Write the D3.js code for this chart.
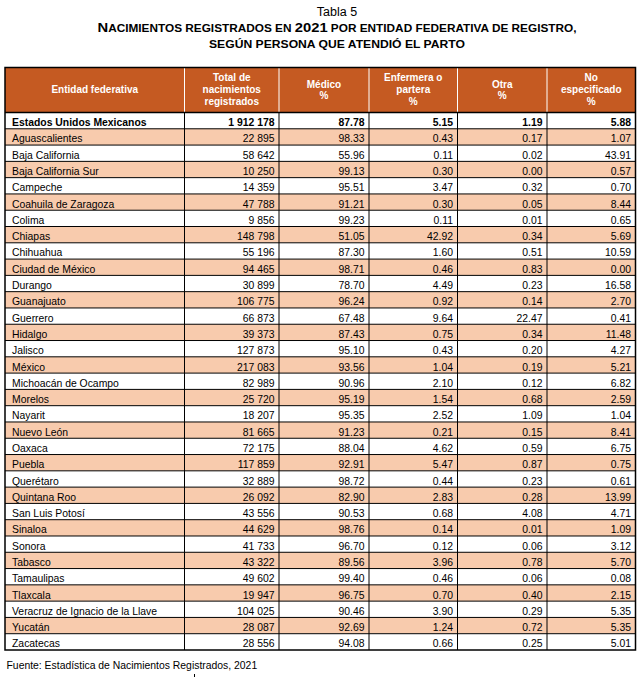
<!DOCTYPE html>
<html><head><meta charset="utf-8">
<script src="https://cdn.jsdelivr.net/npm/d3@7"></script>
<style>body{margin:0;background:#fff} svg{display:block}</style>
</head><body><svg id="c" width="641" height="677"></svg>
<script>
const entidades = ["Estados Unidos Mexicanos","Aguascalientes","Baja California","Baja California Sur","Campeche","Coahuila de Zaragoza","Colima","Chiapas","Chihuahua","Ciudad de México","Durango","Guanajuato","Guerrero","Hidalgo","Jalisco","México","Michoacán de Ocampo","Morelos","Nayarit","Nuevo León","Oaxaca","Puebla","Querétaro","Quintana Roo","San Luis Potosí","Sinaloa","Sonora","Tabasco","Tamaulipas","Tlaxcala","Veracruz de Ignacio de la Llave","Yucatán","Zacatecas"];
const totales = [1912178,22895,58642,10250,14359,47788,9856,148798,55196,94465,30899,106775,66873,39373,127873,217083,82989,25720,18207,81665,72175,117859,32889,26092,43556,44629,41733,43322,49602,19947,104025,28087,28556];
const medico = [87.78,98.33,55.96,99.13,95.51,91.21,99.23,51.05,87.30,98.71,78.70,96.24,67.48,87.43,95.10,93.56,90.96,95.19,95.35,91.23,88.04,92.91,98.72,82.90,90.53,98.76,96.70,89.56,99.40,96.75,90.46,92.69,94.08];
const enfermera = [5.15,0.43,0.11,0.30,3.47,0.30,0.11,42.92,1.60,0.46,4.49,0.92,9.64,0.75,0.43,1.04,2.10,1.54,2.52,0.21,4.62,5.47,0.44,2.83,0.68,0.14,0.12,3.96,0.46,0.70,3.90,1.24,0.66];
const otra = [1.19,0.17,0.02,0.00,0.32,0.05,0.01,0.34,0.51,0.83,0.23,0.14,22.47,0.34,0.20,0.19,0.12,0.68,1.09,0.15,0.59,0.87,0.23,0.28,4.08,0.01,0.06,0.78,0.06,0.40,0.29,0.72,0.25];
const noEspecificado = [5.88,1.07,43.91,0.57,0.70,8.44,0.65,5.69,10.59,0.00,16.58,2.70,0.41,11.48,4.27,5.21,6.82,2.59,1.04,8.41,6.75,0.75,0.61,13.99,4.71,1.09,3.12,5.70,0.08,2.15,5.35,5.35,5.01];
const encabezados = [["Entidad federativa"],["Total de","nacimientos","registrados"],["Médico","%"],["Enfermera o","partera","%"],["Otra","%"],["No","especificado","%"]];
const tituloTabla = "Tabla 5";
const fuente = "Fuente: Estadística de Nacimientos Registrados, 2021";

(function () {
const FONT = "'Liberation Sans', Arial, sans-serif";
const svg = d3.select("#c").attr("font-family", FONT);
const HEAD = "#C55A22", PEACH = "#F8CBAD";

const xEdges = [5, 184.5, 279, 369, 457.5, 547, 635.5];
const tableTop = 67.5, headBottom = 112.5, tableBottom = 650;
const y = d3.scaleBand().domain(d3.range(entidades.length)).range([headBottom, tableBottom]).paddingInner(0).paddingOuter(0);

const fmtInt = v => d3.format(",")(v).replace(/,/g, " ");
const fmtPct = d3.format(".2f");

// Title
const cx = 337;
svg.append("text").attr("x", cx).attr("y", 16).attr("text-anchor", "middle")
  .attr("font-size", 12.5).attr("fill", "#000").text(tituloTabla);
const t2 = svg.append("text").attr("x", cx).attr("y", 31.5).attr("text-anchor", "middle")
  .attr("font-weight", "bold").attr("fill", "#000")
  .attr("textLength", 479).attr("lengthAdjust", "spacingAndGlyphs");
[["N",12.5],["ACIMIENTOS REGISTRADOS EN ",10],["2021",12.5],[" POR ENTIDAD FEDERATIVA DE REGISTRO,",10]]
  .forEach(([s, f]) => t2.append("tspan").attr("font-size", f).text(s));
svg.append("text").attr("x", cx).attr("y", 48).attr("text-anchor", "middle")
  .attr("font-weight", "bold").attr("font-size", 10).attr("fill", "#000")
  .attr("textLength", 256).attr("lengthAdjust", "spacingAndGlyphs")
  .text("SEGÚN PERSONA QUE ATENDIÓ EL PARTO");

// Header
svg.append("rect").attr("x", xEdges[0]).attr("y", tableTop).attr("width", xEdges[6] - xEdges[0])
  .attr("height", headBottom - tableTop).attr("fill", HEAD);
encabezados.forEach((lines, c) => {
  const mx = (xEdges[c] + xEdges[c + 1]) / 2;
  const lh = lines.length === 2 ? 11 : 11.6;
  const first = 93 - (lines.length - 1) * lh / 2;
  const t = svg.append("text").attr("text-anchor", "middle").attr("font-weight", "bold")
    .attr("font-size", 10).attr("fill", "#fff");
  lines.forEach((l, k) => t.append("tspan").attr("x", mx).attr("y", first + k * lh).text(l));
});
svg.selectAll(".hsep").data(xEdges.slice(1, 6)).enter().append("line")
  .attr("x1", d => d).attr("x2", d => d).attr("y1", tableTop).attr("y2", headBottom)
  .attr("stroke", "#fff").attr("stroke-width", 1);

// Body rows
svg.selectAll(".row").data(entidades).enter().append("rect")
  .attr("x", xEdges[0]).attr("y", (d, i) => y(i))
  .attr("width", xEdges[6] - xEdges[0]).attr("height", y.bandwidth())
  .attr("fill", (d, i) => i % 2 === 1 ? PEACH : "#fff");

const cols = [totales.map(fmtInt), medico.map(fmtPct), enfermera.map(fmtPct), otra.map(fmtPct), noEspecificado.map(fmtPct)];
entidades.forEach((name, i) => {
  const by = y(i) + y.bandwidth() - 2.6;
  const w = i === 0 ? "bold" : "normal";
  svg.append("text").attr("x", 12).attr("y", by).attr("font-size", 10.4)
    .attr("font-weight", w).attr("fill", "#000").text(name);
  cols.forEach((arr, c) => {
    svg.append("text").attr("x", xEdges[c + 2] - 4.5).attr("y", by).attr("text-anchor", "end")
      .attr("font-size", 10.4).attr("font-weight", w).attr("fill", "#000").text(arr[i]);
  });
});

// Body grid lines
svg.selectAll(".hl").data(d3.range(1, entidades.length)).enter().append("line")
  .attr("x1", xEdges[0]).attr("x2", xEdges[6])
  .attr("y1", i => y(i)).attr("y2", i => y(i))
  .attr("stroke", "#000").attr("stroke-width", 1);
svg.selectAll(".vl").data(xEdges.slice(1, 6)).enter().append("line")
  .attr("x1", d => d).attr("x2", d => d).attr("y1", headBottom).attr("y2", tableBottom)
  .attr("stroke", "#000").attr("stroke-width", 1);
svg.append("line").attr("x1", xEdges[0]).attr("x2", xEdges[6]).attr("y1", headBottom).attr("y2", headBottom)
  .attr("stroke", "#000").attr("stroke-width", 1.4);
svg.append("rect").attr("x", xEdges[0]).attr("y", tableTop).attr("width", xEdges[6] - xEdges[0])
  .attr("height", tableBottom - tableTop).attr("fill", "none").attr("stroke", "#000").attr("stroke-width", 1.5);

// Footer
svg.append("text").attr("x", 6.5).attr("y", 669).attr("font-size", 10.4).attr("fill", "#000").text(fuente);
svg.append("line").attr("x1", 194.5).attr("x2", 194.5).attr("y1", 674).attr("y2", 677).attr("stroke", "#000").attr("stroke-width", 1);
})();
</script></body></html>
